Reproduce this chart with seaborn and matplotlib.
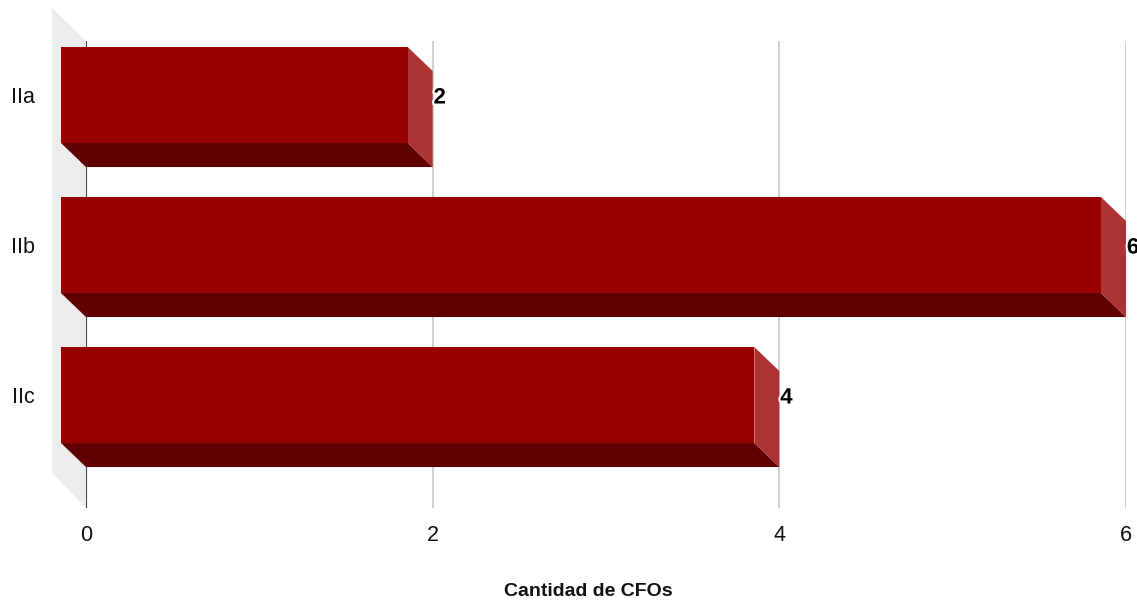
import matplotlib
matplotlib.use("Agg")
import matplotlib.pyplot as plt
import matplotlib.patheffects as pe
from matplotlib.patches import Polygon
import seaborn as sns
import pandas as pd

categories = ["IIa", "IIb", "IIc"]
values = [2, 6, 4]
xticks = [0, 2, 4, 6]
xlabel = "Cantidad de CFOs"

sns.set_theme(style="white")
plt.rcParams["font.family"] = ["Liberation Sans", "DejaVu Sans"]

W, H = 1137, 603
fig = plt.figure(figsize=(W / 100, H / 100), dpi=100)
ax_l, ax_r, ax_t, ax_b = 86, 1126, 41, 508
ax = fig.add_axes([ax_l / W, (H - ax_b) / H, (ax_r - ax_l) / W, (ax_b - ax_t) / H])

df = pd.DataFrame({"cat": categories, "val": values})
bar_h = 0.64
sns.barplot(data=df, x="val", y="cat", orient="h", width=bar_h, color="#990000",
            saturation=1, ax=ax, zorder=3)

xmin, xmax = 0, 6
ymin_top, ymax_bot = -0.52, 2.593
ax.set_xlim(xmin, xmax)
ax.set_ylim(ymax_bot, ymin_top)

px_x = (ax_r - ax_l) / (xmax - xmin)
px_y = (ax_b - ax_t) / (ymax_bot - ymin_top)
dx = 25 / px_x   # depth offset in data units
dy = 24 / px_y

bars = [p for p in ax.patches]

# side wall
wall = Polygon([(-34 / px_x, ymin_top - 33 / px_y), (0, ymin_top), (0, ymax_bot),
                (-34 / px_x, ymax_bot - 35 / px_y)], closed=True,
               facecolor="#ececec", edgecolor="none", clip_on=False, zorder=0)
ax.add_patch(wall)

# grid lines
for t in xticks:
    if t == 0:
        ax.axvline(t, color="#444444", lw=1.5, zorder=1)
    else:
        ax.axvline(t, color="#cccccc", lw=1.3, zorder=1)

for p, v in zip(bars, values):
    y0 = p.get_y()
    h = p.get_height()
    w = p.get_width()
    yb = y0 + h
    # bottom face
    ax.add_patch(Polygon([(-dx, yb - dy), (w - dx, yb - dy), (w, yb), (0, yb)],
                         closed=True, facecolor="#600000", edgecolor="none",
                         clip_on=False, zorder=2))
    # right face
    ax.add_patch(Polygon([(w - dx, y0 - dy), (w, y0), (w, yb), (w - dx, yb - dy)],
                         closed=True, facecolor="#ad3333", edgecolor="none",
                         clip_on=False, zorder=2))
    # front face shifted
    p.set_x(p.get_x() - dx)
    p.set_y(y0 - dy)
    p.set_clip_on(False)
    p.set_edgecolor("none")
    # value label
    ax.text(w + 0.005, y0 - dy + h / 2 + 0.02, f"{v}", ha="left", va="center",
            fontsize=16, fontweight="bold", color="black", zorder=5, clip_on=False,
            path_effects=[pe.withStroke(linewidth=3, foreground="white")])

for s in ax.spines.values():
    s.set_visible(False)

ax.set_xticks(xticks)
ax.set_xticklabels([str(t) for t in xticks])
ax.set_yticks([i - dy for i in range(len(categories))])
ax.set_yticklabels(categories)
ax.tick_params(axis="x", length=0, pad=12, labelsize=15.5, colors="#111111")
ax.tick_params(axis="y", length=0, pad=37, labelsize=15.5, colors="#111111")
ax.set_xlabel("")
ax.set_ylabel("")
ax.grid(False)

fig.text(588 / W, 1 - 592 / H, xlabel, ha="center", va="center",
         fontsize=14, fontweight="bold", color="#111111")

fig.savefig("out.png", dpi=100)
